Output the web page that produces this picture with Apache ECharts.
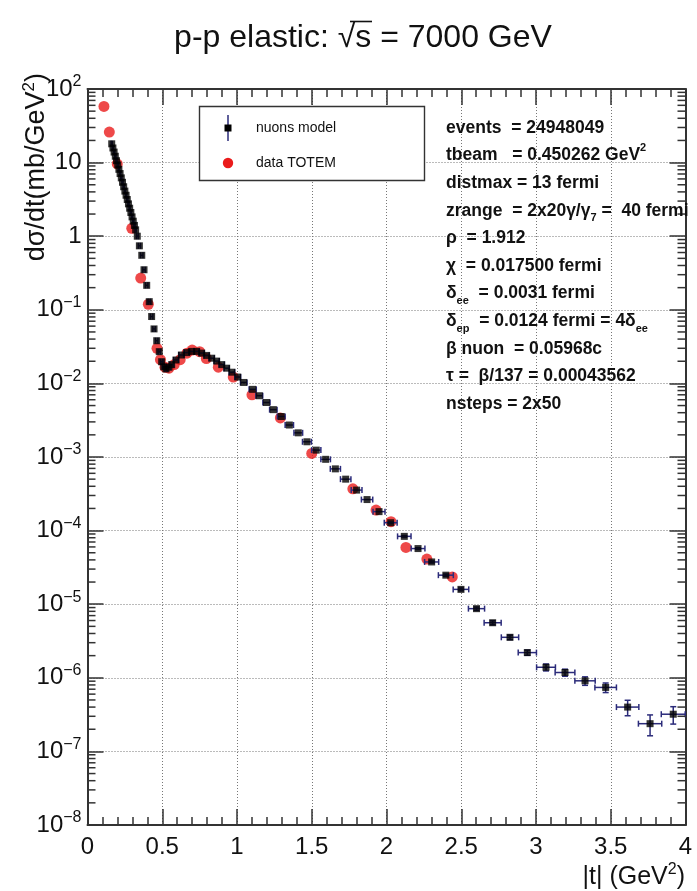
<!DOCTYPE html>
<html>
<head>
<meta charset="utf-8">
<script src="https://cdn.jsdelivr.net/npm/echarts@6/dist/echarts.min.js"></script>
<style>
html, body { margin: 0; padding: 0; background: #fff; }
#chart { width: 697px; height: 891px; }
</style>
</head>
<body>
<div id="chart"></div>
<script>
// nuons model: bin centres |t| (GeV^2), dsigma/dt (mb/GeV^2) and errors
const modelT = [
  0.162, 0.170, 0.178, 0.186, 0.194, 0.202, 0.210, 0.218, 0.226, 0.234, 0.242,
  0.250, 0.258, 0.266, 0.274, 0.282, 0.290, 0.298, 0.306, 0.314, 0.322,
  0.333, 0.347, 0.363, 0.378, 0.396, 0.413, 0.429, 0.445, 0.463, 0.480,
  0.496, 0.510, 0.525, 0.545, 0.563, 0.592, 0.628, 0.664, 0.697, 0.730,
  0.764, 0.797, 0.831, 0.864, 0.898, 0.931, 0.966, 1.005, 1.045, 1.105,
  1.149, 1.197, 1.243, 1.296, 1.350, 1.410, 1.468, 1.530, 1.593, 1.658,
  1.727, 1.800, 1.870, 1.950, 2.028, 2.119, 2.211, 2.302, 2.397, 2.498,
  2.602, 2.710, 2.826, 2.942, 3.067, 3.194, 3.328, 3.466, 3.613, 3.763,
  3.918
];
const modelY = [
  18.0, 15.8, 13.9, 12.2, 10.6, 9.3, 8.1, 7.1, 6.2, 5.4, 4.7,
  4.1, 3.6, 3.15, 2.75, 2.4, 2.1, 1.83, 1.6, 1.4, 1.22,
  1.0, 0.74, 0.55, 0.35, 0.215, 0.129, 0.081, 0.055, 0.038, 0.027,
  0.0197, 0.0168, 0.0157, 0.0166, 0.0180, 0.0208, 0.0243, 0.0262, 0.0272, 0.0272,
  0.0258, 0.0240, 0.0220, 0.0201, 0.0180, 0.0161, 0.0142, 0.0122, 0.0103, 0.0083,
  0.0068, 0.0055, 0.0044, 0.00355, 0.00272, 0.00213, 0.00161, 0.00124, 0.00093, 0.00069,
  0.00050, 0.000355, 0.000264, 0.000181, 0.000128, 0.0000835, 0.0000570, 0.0000375, 0.0000248, 0.0000159,
  0.0000087, 0.0000056, 0.00000355, 0.0000022, 0.00000139, 0.00000118, 0.00000091, 0.00000074, 0.00000040, 0.000000238,
  0.00000032
];
const modelTErr = [
  0.004, 0.004, 0.004, 0.004, 0.004, 0.004, 0.004, 0.004, 0.004, 0.004, 0.004,
  0.004, 0.004, 0.004, 0.004, 0.004, 0.004, 0.004, 0.004, 0.004, 0.004,
  0.006, 0.007, 0.008, 0.008, 0.008, 0.008, 0.008, 0.008, 0.008, 0.008,
  0.008, 0.007, 0.008, 0.009, 0.012, 0.016, 0.017, 0.017, 0.017, 0.017,
  0.017, 0.017, 0.017, 0.017, 0.017, 0.017, 0.018, 0.019, 0.022, 0.024,
  0.023, 0.024, 0.025, 0.026, 0.028, 0.029, 0.030, 0.031, 0.032, 0.034,
  0.035, 0.036, 0.038, 0.040, 0.043, 0.045, 0.046, 0.047, 0.050, 0.052,
  0.054, 0.057, 0.058, 0.061, 0.063, 0.066, 0.068, 0.072, 0.075, 0.078,
  0.080
];
const modelYErr = [
  0, 0, 0, 0, 0, 0, 0, 0, 0, 0, 0,
  0, 0, 0, 0, 0, 0, 0, 0, 0, 0,
  0, 0, 0, 0, 0, 0, 0, 0, 0, 0,
  0, 0, 0, 0, 0, 0, 0, 0, 0, 0,
  0, 0, 0, 0, 0, 0, 0, 0, 0, 0,
  0, 0, 0, 0, 0, 0, 0, 0, 0, 0,
  0, 0, 0, 0, 0.000003, 0.000002, 0.0000015, 0.0000012, 0.0000009, 0.0000007,
  0.00000045, 0.00000035, 0.00000025, 0.00000018, 0.00000015, 0.00000013, 0.00000012, 0.00000011, 0.000000095, 0.000000075,
  0.000000085
];

// TOTEM measurements
const totemT = [
  0.110, 0.146, 0.199, 0.296, 0.356, 0.407, 0.465, 0.488, 0.518, 0.545,
  0.580, 0.620, 0.665, 0.700, 0.750, 0.795, 0.875, 0.975, 1.100, 1.290,
  1.500, 1.775, 1.930, 2.030, 2.130, 2.270, 2.440
];
const totemY = [
  58, 26, 9.6, 1.28, 0.27, 0.119, 0.030, 0.021, 0.0166, 0.0161,
  0.0180, 0.0210, 0.0257, 0.0284, 0.0270, 0.0218, 0.0166, 0.0122, 0.0070, 0.0034,
  0.00112, 0.00037, 0.00019, 0.000132, 0.000059, 0.000041, 0.0000235
];

// axis ranges and decade exponents for the log axis
const xRange = [0, 4];
const yDecades = [-8, -7, -6, -5, -4, -3, -2, -1, 0, 1, 2];

const statLines = [
  '{n|events  = 24948049}',
  '{n|tbeam   = 0.450262 GeV}{sup|2}',
  '{n|distmax = 13 fermi}',
  '{n|zrange  = 2x20γ/γ}{sub|7}{n| =  40 fermi}',
  '{n|ρ  = 1.912}',
  '{n|χ  = 0.017500 fermi}',
  '{n|δ}{sub|ee}{n|  = 0.0031 fermi}',
  '{n|δ}{sub|ep}{n|  = 0.0124 fermi = 4δ}{sub|ee}',
  '{n|β nuon  = 0.05968c}',
  '{n|τ =  β/137 = 0.00043562}',
  '{n|nsteps = 2x50}'
];

const FONT = '"Liberation Sans", Arial, Helvetica, sans-serif';
const AXIS_COLOR = '#333';
const ERR_COLOR = '#2b2b7a';
const RED = '#ea1b1b';

const modelData = modelT.map((t, i) => [t, modelY[i], modelTErr[i], modelYErr[i]]);
const totemData = totemT.map((t, i) => [t, totemY[i]]);

// log minor tick positions (2..9 x 10^n)
const minorTickValues = [];
for (let d = 0; d < yDecades.length - 1; d++) {
  for (let k = 2; k <= 9; k++) minorTickValues.push([xRange[0], k * Math.pow(10, yDecades[d])]);
}

const chart = echarts.init(document.getElementById('chart'), null, { renderer: 'canvas' });

const xAxisCommon = {
  type: 'value',
  min: xRange[0],
  max: xRange[1],
  interval: 0.5,
  axisLine: { show: true, onZero: false, lineStyle: { color: AXIS_COLOR, width: 2 } },
  axisTick: { show: true, inside: true, length: 16, lineStyle: { color: AXIS_COLOR, width: 1.5 } },
  minorTick: { show: true, splitNumber: 5, length: 8, lineStyle: { color: AXIS_COLOR, width: 1.5 } }
};
const yAxisCommon = {
  type: 'log',
  logBase: 10,
  min: Math.pow(10, yDecades[0]),
  max: Math.pow(10, yDecades[yDecades.length - 1]),
  interval: 1,
  axisLine: { show: true, onZero: false, lineStyle: { color: AXIS_COLOR, width: 2 } },
  axisTick: { show: true, inside: true, length: 16, lineStyle: { color: AXIS_COLOR, width: 1.5 } },
  minorTick: { show: false }
};

function yLabel(v) {
  const e = Math.round(Math.log10(v));
  if (e === 0) return '{b|1}';
  if (e === 1) return '{b|10}';
  return '{b|10}{s|' + (e < 0 ? '\u2212' + (-e) : String(e)) + '}';
}

const option = {
  animation: false,
  backgroundColor: '#fff',
  grid: { left: 87.5, right: 11.5, top: 89, bottom: 66, containLabel: false },
  xAxis: [
    Object.assign({}, xAxisCommon, {
      position: 'bottom',
      axisLabel: { show: true, fontSize: 24, color: '#111', margin: 10, fontFamily: FONT },
      splitLine: { show: true, lineStyle: { type: [1, 2], color: '#777', width: 1 } }
    }),
    Object.assign({}, xAxisCommon, {
      position: 'top',
      axisLabel: { show: false },
      splitLine: { show: false }
    })
  ],
  yAxis: [
    Object.assign({}, yAxisCommon, {
      position: 'left',
      axisLabel: {
        show: true, margin: 6, formatter: yLabel,
        rich: {
          b: { fontSize: 24, fontFamily: FONT, color: '#111', lineHeight: 30 },
          s: { fontSize: 16, fontFamily: FONT, color: '#111', lineHeight: 16, verticalAlign: 'top' }
        }
      },
      splitLine: { show: true, lineStyle: { type: [1, 2], color: '#777', width: 1 } }
    }),
    Object.assign({}, yAxisCommon, {
      position: 'right',
      axisLabel: { show: false },
      splitLine: { show: false }
    })
  ],
  series: [
    {
      // minor ticks of the log axis on both sides of the frame
      type: 'custom',
      xAxisIndex: 0, yAxisIndex: 0,
      silent: true,
      data: minorTickValues,
      encode: { x: 0, y: 1 },
      z: 5,
      renderItem: function (params, api) {
        const v = api.value(1);
        const pl = api.coord([xRange[0], v]);
        const pr = api.coord([xRange[1], v]);
        const st = { stroke: AXIS_COLOR, lineWidth: 1.5 };
        return {
          type: 'group',
          children: [
            { type: 'line', shape: { x1: pl[0], y1: pl[1], x2: pl[0] + 8, y2: pl[1] }, style: st },
            { type: 'line', shape: { x1: pr[0] - 8, y1: pr[1], x2: pr[0], y2: pr[1] }, style: st }
          ]
        };
      }
    },
    {
      name: 'data TOTEM',
      type: 'scatter',
      xAxisIndex: 0, yAxisIndex: 0,
      data: totemData,
      symbol: 'circle',
      symbolSize: 11,
      itemStyle: { color: RED },
      z: 3
    },
    {
      // error bars of the model histogram
      type: 'custom',
      xAxisIndex: 0, yAxisIndex: 0,
      silent: true,
      data: modelData,
      encode: { x: 0, y: 1 },
      z: 4,
      renderItem: function (params, api) {
        const t = api.value(0), y = api.value(1), ex = api.value(2), ey = api.value(3);
        const c = api.coord([t, y]);
        const l = api.coord([t - ex, y]);
        const r = api.coord([t + ex, y]);
        const st = { stroke: ERR_COLOR, lineWidth: 1.5 };
        const children = [];
        if (ex > 0) {
          children.push({ type: 'line', shape: { x1: l[0], y1: c[1], x2: r[0], y2: c[1] }, style: st });
          children.push({ type: 'line', shape: { x1: l[0], y1: c[1] - 3, x2: l[0], y2: c[1] + 3 }, style: st });
          children.push({ type: 'line', shape: { x1: r[0], y1: c[1] - 3, x2: r[0], y2: c[1] + 3 }, style: st });
        }
        if (ey > 0) {
          const up = api.coord([t, y + ey]);
          const dn = api.coord([t, Math.max(y - ey, y * 0.05)]);
          children.push({ type: 'line', shape: { x1: c[0], y1: up[1], x2: c[0], y2: dn[1] }, style: st });
          children.push({ type: 'line', shape: { x1: c[0] - 3, y1: up[1], x2: c[0] + 3, y2: up[1] }, style: st });
          children.push({ type: 'line', shape: { x1: c[0] - 3, y1: dn[1], x2: c[0] + 3, y2: dn[1] }, style: st });
        }
        return { type: 'group', children: children };
      }
    },
    {
      name: 'nuons model',
      type: 'scatter',
      xAxisIndex: 0, yAxisIndex: 0,
      data: modelData.map(d => [d[0], d[1]]),
      symbol: 'rect',
      symbolSize: 7,
      itemStyle: { color: '#000' },
      z: 5
    }
  ],
  graphic: [
    {
      type: 'text', x: 363, y: 38, z: 10,
      style: {
        text: 'p-p elastic: √s = 7000 GeV',
        font: '32px ' + FONT, fill: '#111',
        align: 'center', verticalAlign: 'middle', textAlign: 'center', textVerticalAlign: 'middle'
      }
    },
    {
      // bar of the square root over "s"
      type: 'line', z: 10,
      shape: { x1: 350, y1: 21.5, x2: 372, y2: 21.5 },
      style: { stroke: '#111', lineWidth: 1.6 }
    },
    {
      type: 'text', x: 37, y: 73, rotation: Math.PI / 2, z: 10,
      style: {
        text: '{a|dσ/dt(mb/GeV}{s|2}{a|)}',
        rich: {
          a: { fontSize: 27, fontFamily: FONT, fill: '#111', lineHeight: 32 },
          s: { fontSize: 17, fontFamily: FONT, fill: '#111', lineHeight: 18, verticalAlign: 'top' }
        },
        align: 'right', verticalAlign: 'middle', textAlign: 'right', textVerticalAlign: 'middle'
      }
    },
    {
      type: 'text', x: 685, y: 877, z: 10,
      style: {
        text: '{a||t| (GeV}{s|2}{a|)}',
        rich: {
          a: { fontSize: 25, fontFamily: FONT, fill: '#111', lineHeight: 30 },
          s: { fontSize: 16, fontFamily: FONT, fill: '#111', lineHeight: 16, verticalAlign: 'top' }
        },
        align: 'right', verticalAlign: 'middle', textAlign: 'right', textVerticalAlign: 'middle'
      }
    },
    // legend box
    {
      type: 'rect', z: 20,
      shape: { x: 199.5, y: 106.5, width: 225, height: 74 },
      style: { fill: '#fff', stroke: '#333', lineWidth: 1.4 }
    },
    {
      type: 'line', z: 21,
      shape: { x1: 228, y1: 115, x2: 228, y2: 141 },
      style: { stroke: ERR_COLOR, lineWidth: 1.5 }
    },
    {
      type: 'rect', z: 22,
      shape: { x: 224.5, y: 124.5, width: 7, height: 7 },
      style: { fill: '#000' }
    },
    {
      type: 'text', x: 256, y: 128, z: 22,
      style: { text: 'nuons model', font: '14px ' + FONT, fill: '#111', verticalAlign: 'middle', textVerticalAlign: 'middle' }
    },
    {
      type: 'circle', z: 22,
      shape: { cx: 228, cy: 163, r: 5.2 },
      style: { fill: RED }
    },
    {
      type: 'text', x: 256, y: 163, z: 22,
      style: { text: 'data TOTEM', font: '14px ' + FONT, fill: '#111', verticalAlign: 'middle', textVerticalAlign: 'middle' }
    }
  ].concat(statLines.map((line, i) => ({
    type: 'text', x: 446, y: 128 + i * 27.6, z: 15,
    style: {
      text: line,
      rich: {
        n: { fontSize: 17.5, fontWeight: 'bold', fontFamily: FONT, fill: '#111', lineHeight: 26 },
        sup: { fontSize: 11, fontWeight: 'bold', fontFamily: FONT, fill: '#111', lineHeight: 12, verticalAlign: 'top' },
        sub: { fontSize: 11, fontWeight: 'bold', fontFamily: FONT, fill: '#111', lineHeight: 12, verticalAlign: 'bottom' }
      },
      align: 'left', verticalAlign: 'middle', textAlign: 'left', textVerticalAlign: 'middle'
    }
  })))
};

chart.setOption(option);
</script>
</body>
</html>
